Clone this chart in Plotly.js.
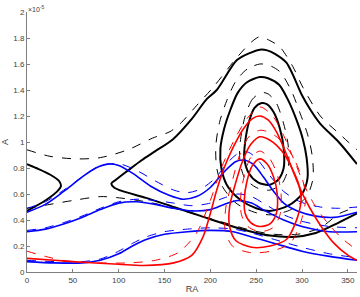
<!DOCTYPE html>
<html><head><meta charset="utf-8">
<script src="https://cdn.plot.ly/plotly-3.0.1.min.js"></script>
<style>html,body{margin:0;padding:0;background:#fff}#c{width:360px;height:297px}</style>
</head><body><div id="c"></div>
<script>
// x = RA (deg), y = A in units of 1e-5
const K1a_x=[360,340,320,309,300,283,270,262,254,245,229,207,196,180,159,140,125,110,97,92,95,105,130,160,190,220,245,265,290,315,340,360];
const K1a_y=[0.83,1.0,1.14,1.25,1.36,1.61,1.68,1.705,1.71,1.69,1.63,1.4,1.33,1.18,1.02,0.93,0.86,0.78,0.71,0.68,0.65,0.62,0.57,0.5,0.43,0.36,0.31,0.28,0.27,0.3,0.38,0.45];
const K1b_x=[0,20,33,37,35,25,10,0];
const K1b_y=[0.47,0.55,0.62,0.66,0.7,0.75,0.8,0.83];
const K2_x=[254,240,230,222,215,211,212,218,232,250,265,285,300,306,305,301,294,285,275,263,254];
const K2_y=[1.5,1.46,1.38,1.25,1.1,0.95,0.8,0.67,0.56,0.49,0.47,0.51,0.6,0.72,0.88,1.02,1.17,1.32,1.44,1.49,1.5];
const K3_x=[256,248,242,238,237,242,252,264,274,280,280,276,269,262,256];
const K3_y=[1.3,1.26,1.15,1.0,0.88,0.76,0.69,0.67,0.71,0.8,0.95,1.1,1.23,1.29,1.3];
const KD1a_x=[0,25,54,80,110,137,156,167,185,203,229,245,254,265,276,290,301,320,338,360];
const KD1a_y=[0.94,0.89,0.87,0.88,0.94,1.03,1.08,1.14,1.28,1.42,1.65,1.77,1.81,1.78,1.73,1.58,1.42,1.2,1.08,0.94];
const KD1b_x=[0,25,50,80,101,130,156,190,220,245,270,295,320,341,360];
const KD1b_y=[0.49,0.52,0.55,0.58,0.57,0.54,0.5,0.43,0.37,0.32,0.29,0.29,0.34,0.45,0.5];
const KD2_x=[254,240,228,218,210,206,207,213,228,248,266,288,305,312,311,306,298,288,276,264,254];
const KD2_y=[1.6,1.56,1.47,1.32,1.15,0.97,0.8,0.66,0.53,0.46,0.44,0.48,0.58,0.72,0.9,1.06,1.22,1.4,1.54,1.59,1.6];
const KD3_x=[256,246,238,233,232,237,250,265,278,285,285,280,272,263,256];
const KD3_y=[1.38,1.33,1.2,1.02,0.88,0.73,0.65,0.63,0.68,0.8,0.97,1.14,1.3,1.37,1.38];
const R1_x=[0,30,60,100,127,160,180,192,200,207,215,225,236,246,254,263,272,281,290,298,308,320,335,350,360];
const R1_y=[0.105,0.09,0.075,0.06,0.05,0.07,0.13,0.27,0.45,0.63,0.8,0.96,1.1,1.18,1.2,1.17,1.08,0.94,0.78,0.64,0.5,0.36,0.22,0.13,0.09];
const R2_x=[254,244,235,227,221,221,228,245,265,283,293,299,297,289,278,266,254];
const R2_y=[1.04,0.98,0.85,0.67,0.5,0.35,0.24,0.19,0.2,0.25,0.38,0.55,0.66,0.8,0.93,1.01,1.04];
const R3_x=[254,246,240,237,238,244,254,265,272,273,269,262,254];
const R3_y=[0.87,0.82,0.7,0.55,0.45,0.38,0.35,0.37,0.45,0.6,0.73,0.83,0.87];
const RD1_x=[0,20,43,80,110,140,165,185,200,212,225,240,254,268,280,292,303,315,330,345,360];
const RD1_y=[0.16,0.12,0.085,0.07,0.07,0.09,0.15,0.3,0.55,0.8,1.0,1.18,1.27,1.2,1.05,0.85,0.66,0.5,0.36,0.25,0.17];
const RD2_x=[254,242,232,224,217,216,224,243,266,287,298,304,301,292,280,266,254];
const RD2_y=[1.09,1.04,0.9,0.7,0.5,0.33,0.2,0.15,0.16,0.22,0.37,0.56,0.7,0.86,0.99,1.07,1.09];
const RD3_x=[254,244,237,233,234,241,254,268,276,277,272,264,254];
const RD3_y=[0.93,0.88,0.74,0.57,0.44,0.35,0.31,0.34,0.44,0.62,0.77,0.88,0.93];
const BU_x=[0,20,40,60,75,88,100,115,135,155,170,185,200,215,228,238,248,258,268,280,295,315,335,360];
const BU_y=[0.46,0.52,0.62,0.73,0.8,0.83,0.82,0.76,0.66,0.59,0.56,0.58,0.65,0.77,0.85,0.86,0.82,0.73,0.63,0.53,0.47,0.43,0.42,0.46];
const BUD_x=[0,20,40,60,75,88,102,120,140,160,175,190,205,220,232,242,252,265,280,298,320,340,360];
const BUD_y=[0.49,0.54,0.63,0.73,0.8,0.83,0.83,0.78,0.7,0.63,0.61,0.64,0.72,0.85,0.92,0.92,0.86,0.74,0.62,0.54,0.5,0.49,0.5];
const BM_x=[0,20,40,60,80,100,120,140,160,180,200,215,230,245,260,280,300,330,360];
const BM_y=[0.31,0.33,0.37,0.42,0.48,0.53,0.54,0.52,0.49,0.47,0.48,0.52,0.55,0.53,0.47,0.4,0.35,0.31,0.31];
const BMD_x=[0,20,40,60,80,100,120,140,160,180,200,215,230,245,260,280,300,330,360];
const BMD_y=[0.32,0.34,0.38,0.43,0.49,0.54,0.56,0.55,0.53,0.51,0.53,0.57,0.6,0.58,0.52,0.44,0.39,0.35,0.34];
const BL_x=[0,30,60,80,100,115,130,150,175,200,225,245,270,300,330,360];
const BL_y=[0.08,0.07,0.07,0.09,0.14,0.2,0.25,0.29,0.31,0.32,0.31,0.27,0.22,0.16,0.12,0.09];
const BLD_x=[0,30,60,80,100,115,130,150,175,200,225,245,270,300,330,360];
const BLD_y=[0.09,0.08,0.08,0.1,0.16,0.22,0.27,0.31,0.33,0.34,0.33,0.3,0.25,0.19,0.14,0.11];

const xTicks=[0,50,100,150,200,250,300,350];
const yTicks=[0,0.2,0.4,0.6,0.8,1,1.2,1.4,1.6,1.8,2];
const yTickText=["0","0.2","0.4","0.6","0.8","1","1.2","1.4","1.6","1.8","2"];

function ln(x,y,color,dash,w){return {x:x,y:y,type:'scatter',mode:'lines',line:{color:color,dash:dash,width:w,shape:'spline',smoothing:0.8},hoverinfo:'skip',showlegend:false};}
const K='#000000', B='#0000ff', R='#ff0000';
const traces=[
 ln(K1a_x,K1a_y,K,'solid',2), ln(K1b_x,K1b_y,K,'solid',2),
 ln(K2_x,K2_y,K,'solid',2), ln(K3_x,K3_y,K,'solid',2),
 ln(KD1a_x,KD1a_y,K,'dash',1), ln(KD1b_x,KD1b_y,K,'dash',1),
 ln(KD2_x,KD2_y,K,'dash',1), ln(KD3_x,KD3_y,K,'dash',1),
 ln(BUD_x,BUD_y,B,'dash',1), ln(BMD_x,BMD_y,B,'dash',1), ln(BLD_x,BLD_y,B,'dash',1),
 ln(BU_x,BU_y,B,'solid',1.6), ln(BM_x,BM_y,B,'solid',1.6), ln(BL_x,BL_y,B,'solid',1.6),
 ln(RD1_x,RD1_y,R,'dash',1), ln(RD2_x,RD2_y,R,'dash',1), ln(RD3_x,RD3_y,R,'dash',1),
 ln(R1_x,R1_y,R,'solid',1.6), ln(R2_x,R2_y,R,'solid',1.6), ln(R3_x,R3_y,R,'solid',1.6)
];
const axc='#7f7f7f', tf={family:'Liberation Sans, Arial, sans-serif',size:8,color:'#404040'};
const layout={
 width:360,height:297,margin:{l:27,r:3,t:12,b:25},
 paper_bgcolor:'#fff',plot_bgcolor:'#fff',
 xaxis:{range:[0,360],tickvals:xTicks,ticktext:xTicks.map(String),ticks:'inside',ticklen:3,tickcolor:axc,
   showline:true,linecolor:axc,linewidth:1,showgrid:false,zeroline:false,tickfont:tf,
   title:{text:'RA',font:{family:'Liberation Sans, Arial, sans-serif',size:9,color:'#404040'},standoff:2}},
 yaxis:{range:[0,2],tickvals:yTicks,ticktext:yTickText,ticks:'inside',ticklen:3,tickcolor:axc,
   showline:true,linecolor:axc,linewidth:1,showgrid:false,zeroline:false,tickfont:tf,
   title:{text:'A',font:{family:'Liberation Sans, Arial, sans-serif',size:9,color:'#404040'},standoff:4}},
 annotations:[{xref:'paper',yref:'paper',x:0,y:1,xanchor:'left',yanchor:'bottom',showarrow:false,
   text:'×10<sup>-5</sup>',font:{family:'Liberation Sans, Arial, sans-serif',size:7,color:'#404040'},xshift:-1,yshift:-3}]
};
Plotly.newPlot('c',traces,layout,{staticPlot:true,displayModeBar:false});
</script></body></html>
